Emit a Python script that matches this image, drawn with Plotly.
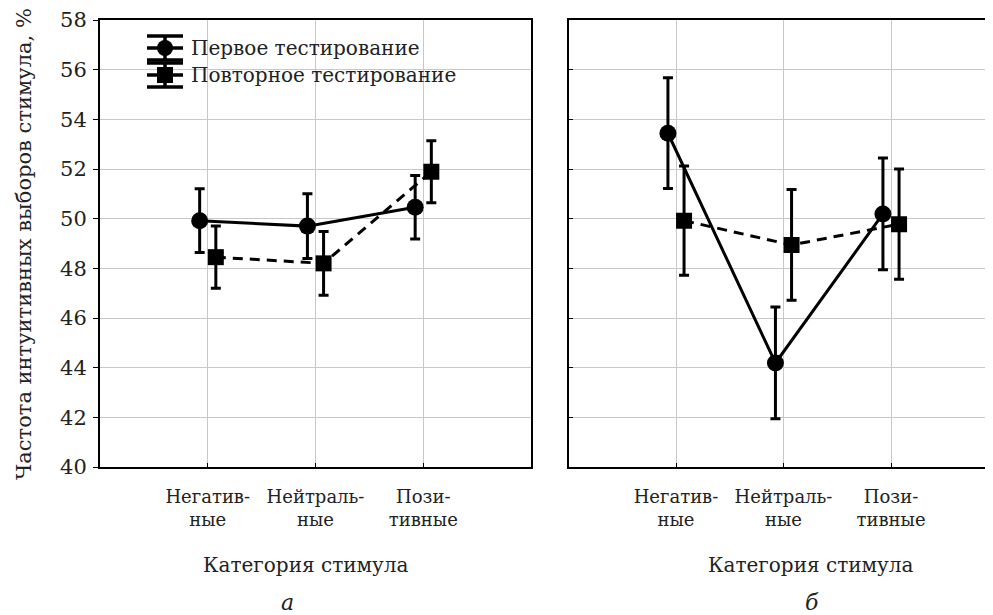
import plotly.graph_objects as go

# ---- data ----
categories = ["Негатив-<br>ные", "Нейтраль-<br>ные", "Пози-<br>тивные"]
series_names = ["Первое тестирование", "Повторное тестирование"]

a_first = [49.92, 49.70, 50.46]
a_first_err = [1.28, 1.30, 1.28]
a_second = [48.45, 48.20, 51.89]
a_second_err = [1.25, 1.28, 1.25]

b_first = [53.44, 44.19, 50.19]
b_first_err = [2.23, 2.25, 2.25]
b_second = [49.92, 48.94, 49.78]
b_second_err = [2.20, 2.23, 2.22]

y_ticks = list(range(40, 60, 2))
y_title = "Частота интуитивных выборов стимула, %"
x_title = "Категория стимула"
panel_labels = ["а", "б"]

# ---- style ----
FONT = "DejaVu Serif"
TXT = "#222222"
GRID = "#c8c8c8"
cat_pos = [1, 2, 3]
OFF = 0.075
DASH = "10px,7px"

# page body has an 8px margin -> work in screen pixels and convert
PAGE = 8
W, H = 993 - PAGE, 615 - PAGE
ML, MR, MT, MB = 100 - PAGE, 0, 20 - PAGE, 615 - 467
pw = W - ML - MR
ph = H - MT - MB

def px_x(sx):
    return (sx - PAGE - ML) / pw

def px_y(sy):
    return (H - MB - (sy - PAGE)) / ph

fig = go.Figure()

def add_series(vals, errs, xa, ya, shift, symbol, dash, name):
    fig.add_trace(go.Scatter(
        x=[c + shift for c in cat_pos], y=vals, xaxis=xa, yaxis=ya,
        mode="lines+markers", name=name, showlegend=False,
        line=dict(color="black", width=3, dash=dash),
        marker=dict(symbol=symbol, size=17 if symbol == "circle" else 16, color="black"),
        error_y=dict(type="data", array=errs, visible=True, color="black",
                     thickness=3, width=5),
    ))

add_series(a_first, a_first_err, "x", "y", -OFF, "circle", "solid", series_names[0])
add_series(a_second, a_second_err, "x", "y", OFF, "square", DASH, series_names[1])
add_series(b_first, b_first_err, "x2", "y2", -OFF, "circle", "solid", series_names[0])
add_series(b_second, b_second_err, "x2", "y2", OFF, "square", DASH, series_names[1])

common_x = dict(
    tickvals=cat_pos, ticktext=categories, showgrid=True, gridcolor=GRID, gridwidth=1,
    showline=True, linecolor="black", linewidth=2, mirror=True,
    ticks="inside", ticklen=4, tickcolor="black",
    tickfont=dict(family=FONT, size=18, color=TXT), zeroline=False,
    ticklabelstandoff=12,
)
fig.update_layout(
    xaxis=dict(domain=[0, px_x(531)], range=[0, 4], anchor="y", **common_x),
    xaxis2=dict(domain=[px_x(568.5), 1], range=[0, (993 - 568.5) / 107.5], anchor="y2", **common_x),
    yaxis=dict(range=[40, 58], tickvals=y_ticks + [58], showgrid=True, gridcolor=GRID,
               showline=True, linecolor="black", linewidth=2, mirror=True,
               ticks="outside", ticklen=5, tickcolor="black", zeroline=False,
               tickfont=dict(family=FONT, size=21, color=TXT), anchor="x",
               ticklabelstandoff=2, ticklabeloverflow="allow"),
    yaxis2=dict(range=[40, 58], tickvals=y_ticks + [58], showgrid=True, gridcolor=GRID,
                showline=True, linecolor="black", linewidth=2, mirror=False,
                ticks="inside", ticklen=4, tickcolor="black", zeroline=False,
                showticklabels=False, anchor="x2"),
    width=W, height=H,
    margin=dict(l=ML, r=MR, t=MT, b=MB, pad=0),
    plot_bgcolor="white", paper_bgcolor="white",
    font=dict(family=FONT, color=TXT),
    showlegend=False,
)

ann = []
ann.append(dict(text=y_title, x=px_x(24), y=px_y(244), xref="paper", yref="paper",
                textangle=-90, showarrow=False, font=dict(family=FONT, size=21, color=TXT),
                xanchor="center", yanchor="middle"))
for cx in [306, 811]:
    ann.append(dict(text=x_title, x=px_x(cx), y=px_y(565), xref="paper", yref="paper",
                    showarrow=False, font=dict(family=FONT, size=20, color=TXT),
                    xanchor="center", yanchor="middle"))
for cx, lab in zip([287, 812], panel_labels):
    ann.append(dict(text="<i>" + lab + "</i>", x=px_x(cx), y=px_y(602), xref="paper", yref="paper",
                    showarrow=False, font=dict(family=FONT, size=22, color=TXT),
                    xanchor="center", yanchor="middle"))

# ---- custom legend (error-bar style glyphs) ----
shapes = []
leg_rows = [(48, "circle", series_names[0]), (75, "square", series_names[1])]
gx0, gx1, gcx = 147, 183, 165
for my, sym, name in leg_rows:
    for yy in (my - 12, my + 12):
        shapes.append(dict(type="line", xref="paper", yref="paper",
                           x0=px_x(gx0), x1=px_x(gx1), y0=px_y(yy), y1=px_y(yy),
                           line=dict(color="black", width=3.5)))
    shapes.append(dict(type="line", xref="paper", yref="paper",
                       x0=px_x(gcx), x1=px_x(gcx), y0=px_y(my - 12), y1=px_y(my + 12),
                       line=dict(color="black", width=3.5)))
    shapes.append(dict(type="line", xref="paper", yref="paper",
                       x0=px_x(gx0), x1=px_x(gx1), y0=px_y(my), y1=px_y(my),
                       line=dict(color="black", width=3.5)))
    r = 8
    shapes.append(dict(type="circle" if sym == "circle" else "rect", xref="paper", yref="paper",
                       x0=px_x(gcx - r), x1=px_x(gcx + r), y0=px_y(my - r), y1=px_y(my + r),
                       fillcolor="black", line=dict(color="black", width=0)))
    ann.append(dict(text=name, x=px_x(189), y=px_y(my), xref="paper", yref="paper",
                    showarrow=False, font=dict(family=FONT, size=20, color=TXT),
                    xanchor="left", yanchor="middle"))

fig.update_layout(annotations=ann, shapes=shapes)

fig.write_html("out.html")
